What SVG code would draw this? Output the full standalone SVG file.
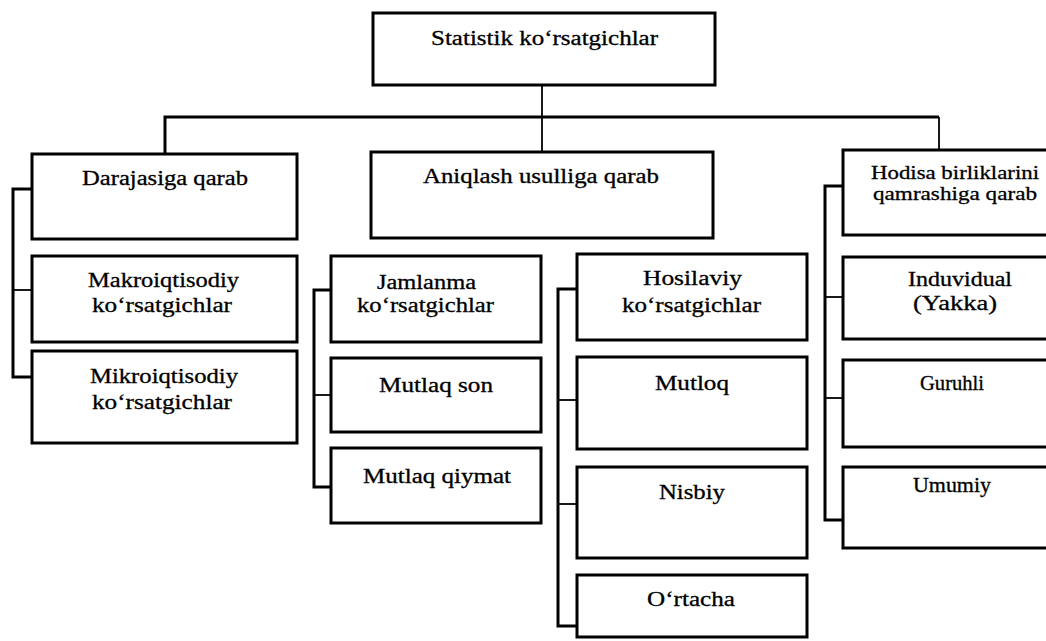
<svg xmlns="http://www.w3.org/2000/svg" width="1046" height="641" viewBox="0 0 1046 641">
  <style>
    .box { fill: #ffffff; stroke: #000000; stroke-width: 3; }
    .bar { fill: none; stroke: #000000; stroke-width: 3; stroke-linejoin: miter; }
    .thin { fill: none; stroke: #000000; stroke-width: 1.8; }
    .tx { font-family: "Liberation Serif", "Times New Roman", serif; font-size: 20.5px; fill: #000000; stroke: #000000; stroke-width: 0.3; }
    .sm { font-size: 19px; }
  </style>
  <rect width="1046" height="641" fill="#ffffff"/>

  <!-- connectors -->
  <g id="connectors">
    <!-- root stem and main bus -->
    <line class="thin" x1="542" y1="85" x2="542" y2="152"/>
    <polyline class="bar" points="165,154 165,117 939,117"/>
    <line class="thin" x1="939" y1="117" x2="939" y2="150"/>
    <!-- left group bracket -->
    <polyline class="bar" points="32,189 13,189 13,377 32,377"/>
    <line class="thin" x1="13" y1="290" x2="32" y2="290"/>
    <!-- Jamlanma group bracket -->
    <polyline class="bar" points="331,290 314,290 314,487 331,487"/>
    <line class="thin" x1="314" y1="395" x2="331" y2="395"/>
    <!-- Hosilaviy group bracket -->
    <polyline class="bar" points="577,289 558,289 558,626 577,626"/>
    <line class="thin" x1="558" y1="400" x2="577" y2="400"/>
    <line class="thin" x1="558" y1="504" x2="577" y2="504"/>
    <!-- right group bracket -->
    <polyline class="bar" points="843,186 825,186 825,520 843,520"/>
    <line class="thin" x1="825" y1="297" x2="843" y2="297"/>
    <line class="thin" x1="825" y1="398" x2="843" y2="398"/>
  </g>

  <g id="root">
    <rect class="box" x="373" y="13" width="342" height="72"/>
    <text class="tx" x="431" y="45" textLength="227" lengthAdjust="spacingAndGlyphs">Statistik ko‘rsatgichlar</text>
  </g>

  <g id="darajasiga">
    <rect class="box" x="32" y="154" width="265" height="85"/>
    <text class="tx" x="82" y="185" textLength="166" lengthAdjust="spacingAndGlyphs">Darajasiga qarab</text>
  </g>
  <g id="makro">
    <rect class="box" x="32" y="256" width="265" height="86"/>
    <text class="tx" x="88" y="287" textLength="151" lengthAdjust="spacingAndGlyphs">Makroiqtisodiy</text>
    <text class="tx" x="92" y="312" textLength="140" lengthAdjust="spacingAndGlyphs">ko‘rsatgichlar</text>
  </g>
  <g id="mikro">
    <rect class="box" x="32" y="351" width="265" height="92"/>
    <text class="tx" x="90" y="383" textLength="148" lengthAdjust="spacingAndGlyphs">Mikroiqtisodiy</text>
    <text class="tx" x="92" y="409" textLength="140" lengthAdjust="spacingAndGlyphs">ko‘rsatgichlar</text>
  </g>

  <g id="aniqlash">
    <rect class="box" x="371" y="152" width="342" height="86"/>
    <text class="tx" x="423" y="183" textLength="236" lengthAdjust="spacingAndGlyphs">Aniqlash usulliga qarab</text>
  </g>
  <g id="jamlanma">
    <rect class="box" x="331" y="256" width="210" height="86"/>
    <text class="tx" x="377" y="289" textLength="99" lengthAdjust="spacingAndGlyphs">Jamlanma</text>
    <text class="tx" x="357" y="312" textLength="137" lengthAdjust="spacingAndGlyphs">ko‘rsatgichlar</text>
  </g>
  <g id="mutlaq-son">
    <rect class="box" x="331" y="358" width="210" height="74"/>
    <text class="tx" x="379" y="392" textLength="114" lengthAdjust="spacingAndGlyphs">Mutlaq son</text>
  </g>
  <g id="mutlaq-qiymat">
    <rect class="box" x="331" y="448" width="210" height="75"/>
    <text class="tx" x="363" y="483" textLength="148" lengthAdjust="spacingAndGlyphs">Mutlaq qiymat</text>
  </g>

  <g id="hosilaviy">
    <rect class="box" x="577" y="254" width="230" height="86"/>
    <text class="tx" x="643" y="285" textLength="99" lengthAdjust="spacingAndGlyphs">Hosilaviy</text>
    <text class="tx" x="622" y="312" textLength="139" lengthAdjust="spacingAndGlyphs">ko‘rsatgichlar</text>
  </g>
  <g id="mutloq">
    <rect class="box" x="577" y="357" width="230" height="92"/>
    <text class="tx" x="655" y="390" textLength="74" lengthAdjust="spacingAndGlyphs">Mutloq</text>
  </g>
  <g id="nisbiy">
    <rect class="box" x="577" y="467" width="230" height="91"/>
    <text class="tx" x="659" y="499" textLength="66" lengthAdjust="spacingAndGlyphs">Nisbiy</text>
  </g>
  <g id="ortacha">
    <rect class="box" x="577" y="575" width="230" height="62"/>
    <text class="tx" x="647" y="606" textLength="88" lengthAdjust="spacingAndGlyphs">O‘rtacha</text>
  </g>

  <g id="hodisa">
    <rect class="box" x="843" y="150" width="224" height="85"/>
    <text class="tx sm" x="871" y="179" textLength="168" lengthAdjust="spacingAndGlyphs">Hodisa birliklarini</text>
    <text class="tx sm" x="873" y="200" textLength="164" lengthAdjust="spacingAndGlyphs">qamrashiga qarab</text>
  </g>
  <g id="induvidual">
    <rect class="box" x="843" y="257" width="224" height="82"/>
    <text class="tx" x="908" y="286" textLength="104" lengthAdjust="spacingAndGlyphs">Induvidual</text>
    <text class="tx" x="913" y="310" textLength="84" lengthAdjust="spacingAndGlyphs">(Yakka)</text>
  </g>
  <g id="guruhli">
    <rect class="box" x="843" y="360" width="224" height="87"/>
    <text class="tx" x="920" y="390" textLength="64" lengthAdjust="spacingAndGlyphs">Guruhli</text>
  </g>
  <g id="umumiy">
    <rect class="box" x="843" y="467" width="224" height="81"/>
    <text class="tx" x="913" y="492" textLength="78" lengthAdjust="spacingAndGlyphs">Umumiy</text>
  </g>
</svg>
